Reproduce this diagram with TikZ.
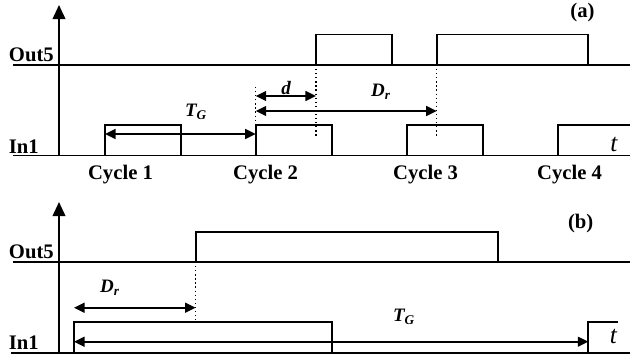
\documentclass[tikz,border=0pt]{standalone}
\usepackage{fontspec}
\setmainfont{Liberation Serif}
\usetikzlibrary{arrows.meta}

\begin{document}
\begin{tikzpicture}[x=0.25mm, y=-0.25mm, line width=1.35pt,
    axis/.style={-{Triangle[length=10pt,width=9pt]}},
    dim/.style={{Triangle[length=7.5pt,width=7pt]}-{Triangle[length=7.5pt,width=7pt]}},
    guide/.style={dotted, line width=0.9pt},
    lbl/.style={inner sep=0pt, font=\fontsize{14.7}{16}\selectfont\bfseries},
    sym/.style={inner sep=0pt, font=\fontsize{13.5}{15}\selectfont\bfseries\itshape},
    tlbl/.style={inner sep=0pt, font=\fontsize{18}{20}\selectfont\itshape}]
    \useasboundingbox (0,0) rectangle (630,356);

    % panel (a)
    \draw[axis] (59,155.5) -- (59,5);
    \draw (13,65) -- (630,65);
    \draw (13,155.5) -- (630,155.5);
    \draw (316,65) |- (391.7,34.5) -- (391.7,65);
    \draw (436.7,65) |- (588.3,34.5) -- (588.3,65);
    \draw (105,155.5) |- (180.7,125) -- (180.7,155.5);
    \draw (255.7,155.5) |- (331.7,125) -- (331.7,155.5);
    \draw (406.7,155.5) |- (482.7,125) -- (482.7,155.5);
    \draw (558.3,155.5) |- (630,125);
    \draw[guide] (255.7,87) -- (255.7,125);
    \draw[guide] (316,65) -- (316,138);
    \draw[guide] (436.7,65) -- (436.7,138);
    \coordinate (tga) at (105,134);   \coordinate (tgb) at (255.7,134);
    \coordinate (da)  at (255.7,96);  \coordinate (db)  at (316,96);
    \coordinate (dra) at (255.7,111); \coordinate (drb) at (436.7,111);
    \draw[dim] (tga) -- (tgb);
    \draw[dim] (da) -- (db);
    \draw[dim] (dra) -- (drb);
    \node[sym, anchor=base] (tgA) at (196,116.7) {T\textsubscript{G}};
    \node[sym, anchor=base] (dA) at (286,94) {d};
    \node[sym, anchor=base] (drA) at (381,96) {D\textsubscript{r}};
    \node[lbl, anchor=base west] (outA) at (8,61.7) {Out5};
    \node[lbl, anchor=base west] (inA) at (8,153) {In1};
    \node[lbl, anchor=base] (tagA) at (582.5,17.5) {(a)};
    \node[tlbl, anchor=base] (tA) at (614,151.7) {t};
    \node[lbl, anchor=base] (c1) at (120.5,179) {Cycle 1};
    \node[lbl, anchor=base] (c2) at (265.5,179) {Cycle 2};
    \node[lbl, anchor=base] (c3) at (425.5,179) {Cycle 3};
    \node[lbl, anchor=base] (c4) at (569.5,179) {Cycle 4};

    % panel (b)
    \draw[axis] (59,352.7) -- (59,202);
    \draw (13,262) -- (630,262);
    \draw (11,352.7) -- (630,352.7);
    \draw (195.7,262) |- (497.7,231.7) -- (497.7,262);
    \draw (74,352.7) |- (331.7,321.7) -- (331.7,352.7);
    \draw (588.3,352.7) |- (618.3,321.7);
    \draw[guide] (195.7,262) -- (195.7,322);
    \coordinate (dr2a) at (74,307.7);  \coordinate (dr2b) at (195.7,307.7);
    \coordinate (tg2a) at (74,341.7);  \coordinate (tg2b) at (588.3,341.7);
    \draw[dim] (dr2a) -- (dr2b);
    \draw[dim] (tg2a) -- (tg2b);
    \node[sym, anchor=base] (drB) at (110,292) {D\textsubscript{r}};
    \node[sym, anchor=base] (tgB) at (404,321.7) {T\textsubscript{G}};
    \node[lbl, anchor=base west] (outB) at (8,258.5) {Out5};
    \node[lbl, anchor=base west] (inB) at (8,349) {In1};
    \node[lbl, anchor=base] (tagB) at (580.7,228) {(b)};
    \node[tlbl, anchor=base] (tB) at (613.3,343.3) {t};
\end{tikzpicture}
\end{document}
